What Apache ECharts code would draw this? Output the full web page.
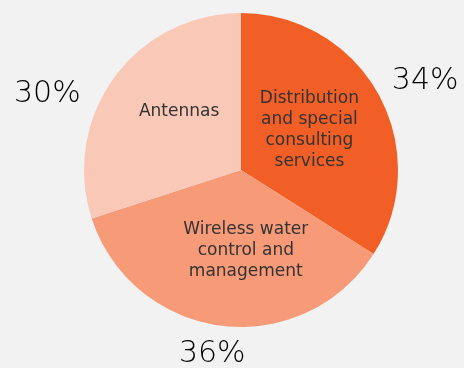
<!DOCTYPE html>
<html><head><meta charset="utf-8">
<script src="https://cdn.jsdelivr.net/npm/echarts@6/dist/echarts.min.js"></script>
<style>html,body{margin:0;padding:0;background:#F2F2F2}#c{width:464px;height:368px}</style>
</head><body><div id="c"></div>
<script>
const categories = ["Distribution and special consulting services", "Wireless water control and management", "Antennas"];
const wrappedLabels = ["Distribution\nand special\nconsulting\nservices", "Wireless water\ncontrol and\nmanagement", "Antennas"];
const values = [34, 36, 30];
const colors = ['#F15F27', '#F69A78', '#F9C8B6'];
const innerOffsets = [[-3, -1], [15, 0], [4, -11]];
const outerOffsets = [[-18, 1], [33, 2], [-4, 34]];

const chart = echarts.init(document.getElementById('c'));
const base = {
  type: 'pie', center: [241, 170], radius: [0, 157], startAngle: 90, clockwise: true,
  animation: false
};
chart.setOption({
  backgroundColor: '#F2F2F2',
  series: [
    Object.assign({}, base, {
      data: categories.map((n, i) => ({name: n, value: values[i], itemStyle: {color: colors[i]}})),
      itemStyle: {borderWidth: 0},
      label: {
        show: true, position: 'inside', color: '#333',
        fontFamily: 'DejaVu Sans', fontSize: 17, lineHeight: 21, align: 'center',
        formatter: p => wrappedLabels[p.dataIndex]
      },
      labelLayout: p => ({dx: innerOffsets[p.dataIndex][0], dy: innerOffsets[p.dataIndex][1]}),
      emphasis: {disabled: true}
    }),
    Object.assign({}, base, {
      silent: true, z: 5,
      data: categories.map((n, i) => ({name: n, value: values[i]})),
      itemStyle: {color: 'rgba(0,0,0,0)'},
      label: {
        show: true, position: 'outside', color: '#000', overflow: 'none', edgeDistance: 0,
        fontFamily: 'DejaVu Sans', fontSize: 30, fontWeight: 200,
        formatter: p => Math.round(p.percent) + '%'
      },
      labelLine: {show: false, length: 30, length2: 0},
      labelLayout: p => ({dx: outerOffsets[p.dataIndex][0], dy: outerOffsets[p.dataIndex][1]}),
      emphasis: {disabled: true}
    })
  ]
});
</script></body></html>
